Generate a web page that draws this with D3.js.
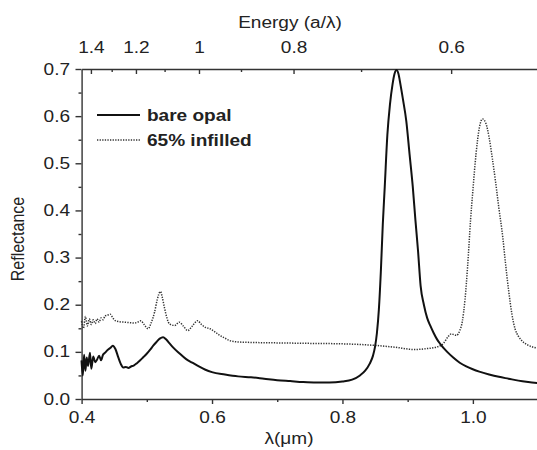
<!DOCTYPE html>
<html>
  <head>
    <meta charset="utf-8" />
    <script src="https://d3js.org/d3.v7.min.js"></script>
    <style>
      body { margin: 0; background: #fff; }
      svg { display: block; font-family: "Liberation Sans", Arial, sans-serif; }
      .axis path, .axis line { stroke: #333; stroke-width: 1.4; vector-effect: non-scaling-stroke; }
      .axis text { fill: #222; font-size: 16px; }
      .lbl { fill: #222; font-size: 16px; }
    </style>
  </head>
  <body>
    <div id="my_dataviz"></div>
    <script>
      // wavelength (um) and reflectance
      var bareLambda = [0.400,0.402,0.404,0.406,0.408,0.410,0.413,0.415,0.418,0.421,0.424,0.427,0.430,0.433,0.436,0.440,0.444,0.448,0.452,0.456,0.460,0.464,0.468,0.472,0.476,0.480,0.485,0.490,0.495,0.500,0.505,0.510,0.515,0.520,0.525,0.530,0.535,0.540,0.550,0.560,0.570,0.580,0.590,0.600,0.620,0.640,0.660,0.680,0.700,0.720,0.740,0.760,0.780,0.800,0.815,0.827,0.835,0.842,0.847,0.850,0.853,0.856,0.859,0.862,0.865,0.869,0.873,0.877,0.880,0.883,0.886,0.889,0.893,0.898,0.903,0.908,0.912,0.916,0.920,0.925,0.930,0.935,0.940,0.945,0.950,0.960,0.970,0.980,0.990,1.000,1.010,1.025,1.040,1.055,1.070,1.085,1.100];
      var bareR = [0.082,0.050,0.094,0.060,0.088,0.070,0.098,0.064,0.090,0.078,0.084,0.092,0.082,0.094,0.098,0.104,0.108,0.113,0.106,0.090,0.075,0.067,0.068,0.066,0.069,0.071,0.076,0.082,0.089,0.096,0.104,0.113,0.121,0.128,0.131,0.126,0.118,0.110,0.097,0.085,0.077,0.069,0.062,0.057,0.052,0.048,0.046,0.043,0.040,0.038,0.036,0.035,0.035,0.037,0.041,0.050,0.060,0.075,0.092,0.110,0.140,0.190,0.270,0.370,0.450,0.560,0.625,0.668,0.690,0.698,0.690,0.668,0.635,0.590,0.520,0.450,0.380,0.315,0.240,0.200,0.172,0.155,0.140,0.127,0.117,0.101,0.088,0.077,0.069,0.063,0.058,0.052,0.047,0.043,0.039,0.036,0.0335];

      var infLambda = [0.400,0.403,0.406,0.409,0.412,0.415,0.418,0.421,0.424,0.427,0.430,0.433,0.436,0.440,0.444,0.448,0.452,0.458,0.466,0.474,0.481,0.486,0.491,0.496,0.502,0.507,0.512,0.516,0.521,0.524,0.527,0.531,0.535,0.543,0.550,0.556,0.563,0.570,0.578,0.584,0.590,0.597,0.605,0.612,0.620,0.627,0.640,0.660,0.700,0.750,0.800,0.847,0.880,0.910,0.930,0.944,0.955,0.962,0.967,0.975,0.980,0.984,0.988,0.992,0.9966,1.000,1.005,1.010,1.015,1.020,1.025,1.030,1.035,1.040,1.046,1.050,1.055,1.060,1.065,1.070,1.075,1.085,1.100];
      var infR = [0.165,0.150,0.175,0.155,0.170,0.158,0.168,0.160,0.170,0.163,0.172,0.168,0.176,0.178,0.180,0.172,0.166,0.164,0.163,0.162,0.161,0.163,0.166,0.158,0.149,0.162,0.184,0.210,0.228,0.215,0.195,0.172,0.159,0.156,0.163,0.155,0.145,0.155,0.166,0.158,0.152,0.149,0.142,0.135,0.129,0.124,0.121,0.120,0.119,0.118,0.117,0.114,0.110,0.105,0.107,0.110,0.118,0.132,0.138,0.135,0.145,0.165,0.210,0.280,0.380,0.440,0.520,0.575,0.594,0.585,0.555,0.510,0.460,0.405,0.343,0.290,0.230,0.180,0.148,0.133,0.124,0.114,0.108];

      var xMajor = [0.4, 0.6, 0.8, 1.0];
      var xMinor = [0.5, 0.7, 0.9];
      var yMajor = [0, 0.1, 0.2, 0.3, 0.4, 0.5, 0.6, 0.7];
      var yMinor = [0.05, 0.15, 0.25, 0.35, 0.45, 0.55, 0.65];
      var eMajor = [1.4, 1.2, 1.0, 0.8, 0.6];
      var eMajorLabels = ["1.4", "1.2", "1", "0.8", "0.6"];
      var eMinor = [1.3, 1.1, 0.9, 0.7];
      var latticeA = 0.58; // energy = a / lambda

      var seriesNames = ["bare opal", "65% infilled"];

      // the original figure is stretched sideways, so draw in a squeezed viewBox
      var k = 1.19;
      var W = 537 / k, H = 450;

      var svg = d3
        .select("#my_dataviz")
        .append("svg")
        .attr("width", 537)
        .attr("height", 450)
        .attr("viewBox", "0 0 " + W + " " + H)
        .attr("preserveAspectRatio", "none");

      var x = d3.scaleLinear().domain([0.4, 1.1]).range([81.5 / k, 538 / k]);
      var y = d3.scaleLinear().domain([0, 0.7]).range([399, 69]);

      // bottom axis
      svg.append("g").attr("class", "axis")
        .attr("transform", "translate(0," + y(0) + ")")
        .call(d3.axisBottom(x).tickValues(xMajor).tickFormat(d3.format(".1f"))
          .tickSize(5).tickPadding(8).tickSizeOuter(0));
      svg.append("g").attr("class", "axis")
        .attr("transform", "translate(0," + y(0) + ")")
        .call(d3.axisBottom(x).tickValues(xMinor).tickFormat("").tickSize(3).tickSizeOuter(0))
        .select(".domain").remove();

      // left axis
      svg.append("g").attr("class", "axis")
        .attr("transform", "translate(" + x(0.4) + ",0)")
        .call(d3.axisLeft(y).tickValues(yMajor).tickFormat(d3.format(".1f"))
          .tickSize(6 / k).tickPadding(5.5 / k).tickSizeOuter(0));
      svg.append("g").attr("class", "axis")
        .attr("transform", "translate(" + x(0.4) + ",0)")
        .call(d3.axisLeft(y).tickValues(yMinor).tickFormat("").tickSize(3 / k).tickSizeOuter(0))
        .select(".domain").remove();

      // top axis in energy units, ticks pointing inward
      svg.append("g").attr("class", "axis")
        .attr("transform", "translate(0," + y(0.7) + ")")
        .call(d3.axisTop(x)
          .tickValues(eMajor.map(function (e) { return latticeA / e; }))
          .tickFormat(function (d, i) { return eMajorLabels[i]; })
          .tickSize(-5).tickPadding(16.5).tickSizeOuter(0));
      svg.append("g").attr("class", "axis")
        .attr("transform", "translate(0," + y(0.7) + ")")
        .call(d3.axisTop(x)
          .tickValues(eMinor.map(function (e) { return latticeA / e; }))
          .tickFormat("").tickSize(-3).tickSizeOuter(0))
        .select(".domain").remove();

      // axis titles
      svg.append("text").attr("class", "lbl")
        .attr("x", 290 / k).attr("y", 28)
        .attr("text-anchor", "middle")
        .text("Energy (a/\u03bb)");
      svg.append("text").attr("class", "lbl")
        .attr("x", 289 / k).attr("y", 444)
        .attr("text-anchor", "middle")
        .text("\u03bb(\u03bcm)");
      svg.append("text").attr("class", "lbl")
        .attr("transform", "translate(" + 23.5 / k + ",239) rotate(-90)")
        .attr("text-anchor", "middle")
        .text("Reflectance");

      // curves
      var line = d3.line()
        .x(function (d) { return x(d[0]); })
        .y(function (d) { return y(d[1]); })
        .curve(d3.curveMonotoneX);

      svg.append("path")
        .datum(d3.zip(infLambda, infR))
        .attr("d", line)
        .attr("fill", "none")
        .attr("stroke", "#333")
        .attr("stroke-width", 1.5)
        .attr("stroke-dasharray", "1.3,1.3")
        .style("vector-effect", "non-scaling-stroke");

      svg.append("path")
        .datum(d3.zip(bareLambda, bareR))
        .attr("d", line)
        .attr("fill", "none")
        .attr("stroke", "#111")
        .attr("stroke-width", 2)
        .style("vector-effect", "non-scaling-stroke");

      // legend
      var legend = svg.append("g");
      seriesNames.forEach(function (name, i) {
        var ly = 115 + i * 25;
        legend.append("line")
          .attr("x1", 97 / k).attr("x2", 140 / k)
          .attr("y1", ly).attr("y2", ly)
          .attr("stroke", i === 0 ? "#111" : "#333")
          .attr("stroke-width", i === 0 ? 2 : 1.5)
          .attr("stroke-dasharray", i === 0 ? null : "1.3,1.3")
          .style("vector-effect", "non-scaling-stroke");
        legend.append("text").attr("class", "lbl")
          .attr("x", 147 / k).attr("y", ly + 6)
          .style("font-weight", "bold")
          .text(name);
      });
    </script>
  </body>
</html>
